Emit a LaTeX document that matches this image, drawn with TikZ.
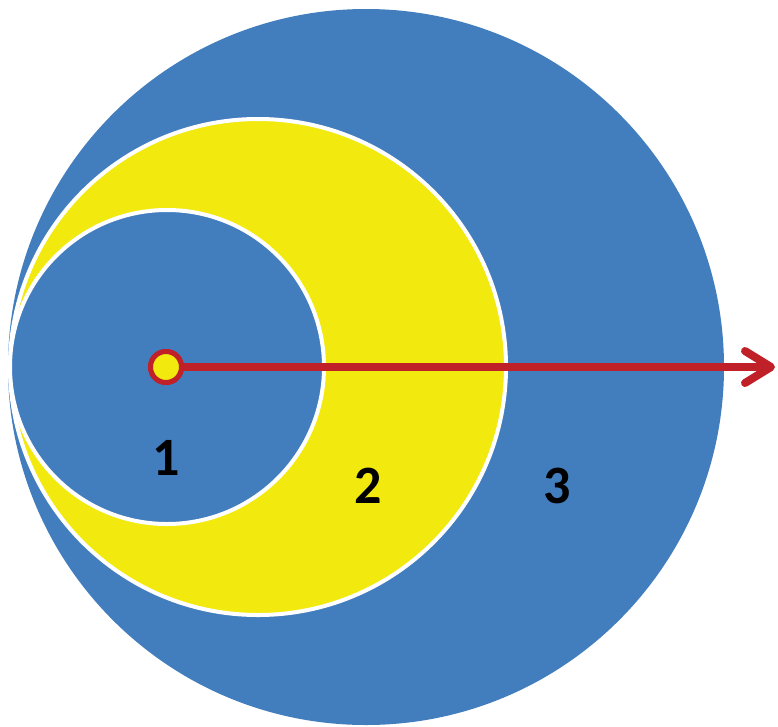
\documentclass[tikz,border=0pt]{standalone}
\usepackage{fontspec}
\setmainfont{Carlito}
\usetikzlibrary{arrows.meta}
\definecolor{cblue}{RGB}{66,125,189}
\definecolor{cyellow}{RGB}{242,233,14}
\definecolor{cred}{RGB}{192,32,40}
\tikzset{
  disc/.style={circle, inner sep=0pt, outer sep=0pt},
  lbl/.style={font=\fontsize{54}{54}\selectfont\bfseries, text=black, inner sep=0pt},
}
\begin{document}
\begin{tikzpicture}[x=1pt,y=-1pt]
\useasboundingbox (0,0) rectangle (778,726);
\node[disc, fill=cblue, minimum size=716] (big) at (366,367) {};
\node[disc, fill=cyellow, draw=white, line width=4, minimum size=496] (mid) at (258,367) {};
\node[disc, fill=cblue, draw=white, line width=4, minimum size=314] (inner) at (167,367) {};
\coordinate (tip) at (775,367);
\node[disc, fill=cyellow, draw=cred, line width=5, minimum size=31] (dot) at (166,367) {};
\draw[cred, line width=8, -{Straight Barb[length=26, width=32, line cap=round, round]}] (dot.east) -- (tip);
\node[disc, fill=cyellow, draw=cred, line width=5, minimum size=31] at (166,367) {};
\node[lbl] (l1) at (166,458) {1};
\node[lbl] (l2) at (368,486) {2};
\node[lbl] (l3) at (557,486) {3};
\end{tikzpicture}
\end{document}
